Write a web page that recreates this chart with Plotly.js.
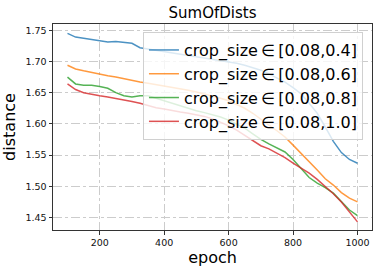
<!DOCTYPE html>
<html>
<head>
<meta charset="utf-8">
<script src="https://cdn.plot.ly/plotly-3.0.1.min.js"></script>
<style>html,body{margin:0;padding:0;background:#fff;}#chart{width:378px;height:272px;}</style>
</head>
<body>
<div id="chart"></div>
<script>
const epochs = [100,125,150,175,200,225,250,275,300,325,350,375,400,425,450,475,500,525,550,575,600,625,650,675,700,725,750,775,800,825,850,875,900,925,950,975,1000];

const crop04 = [1.745,1.739,1.737,1.735,1.732,1.731,1.732,1.731,1.729,1.722,1.720,1.718,1.715,1.713,1.711,1.709,1.707,1.705,1.703,1.701,1.700,1.697,1.694,1.690,1.686,1.680,1.674,1.667,1.658,1.648,1.633,1.617,1.595,1.572,1.554,1.543,1.537];
const crop06 = [1.694,1.688,1.685,1.682,1.679,1.677,1.675,1.672,1.669,1.667,1.665,1.663,1.661,1.659,1.656,1.654,1.651,1.648,1.645,1.641,1.637,1.631,1.625,1.617,1.607,1.598,1.589,1.579,1.566,1.553,1.539,1.526,1.512,1.502,1.490,1.481,1.475];
const crop08 = [1.675,1.664,1.662,1.662,1.660,1.657,1.650,1.645,1.643,1.645,1.645,1.641,1.636,1.632,1.628,1.625,1.621,1.618,1.615,1.611,1.606,1.600,1.593,1.584,1.575,1.568,1.561,1.555,1.543,1.528,1.514,1.505,1.498,1.489,1.476,1.462,1.453];
const crop10 = [1.664,1.655,1.650,1.647,1.645,1.643,1.641,1.639,1.636,1.633,1.629,1.626,1.624,1.621,1.619,1.617,1.615,1.612,1.608,1.603,1.597,1.590,1.582,1.573,1.565,1.560,1.553,1.546,1.537,1.529,1.521,1.511,1.500,1.488,1.475,1.459,1.443];

const seriesNames = ["crop_size\u2009\u2208\u2009[0.08,0.4]","crop_size\u2009\u2208\u2009[0.08,0.6]","crop_size\u2009\u2208\u2009[0.08,0.8]","crop_size\u2009\u2208\u2009[0.08,1.0]"];
const seriesValues = [crop04, crop06, crop08, crop10];
const colors = ["#1f77b4","#ff7f0e","#2ca02c","#d62728"];

const titleText = "SumOfDists";
const xLabel = "epoch";
const yLabel = "distance";
const xTicks = [200,400,600,800,1000];
const yTicks = [1.45,1.50,1.55,1.60,1.65,1.70,1.75];

const FONT = "DejaVu Sans, sans-serif";

const traces = seriesValues.map((vals, i) => ({
  x: epochs, y: vals, type: "scatter", mode: "lines",
  name: seriesNames[i],
  line: {color: colors[i], width: 1.5},
  opacity: 0.8
}));

const axisCommon = {
  showline: true, linecolor: "#333", linewidth: 1, mirror: true,
  ticks: "outside", ticklen: 3.5, tickwidth: 1, tickcolor: "#333",
  showgrid: true, gridcolor: "#cccccc", gridwidth: 1, griddash: "dashdot",
  zeroline: false,
  tickfont: {family: FONT, size: 9.5, color: "#111"}
};

const layout = {
  width: 378, height: 272,
  margin: {l: 53, r: 6, t: 24, b: 42, pad: 0},
  paper_bgcolor: "#fff", plot_bgcolor: "#fff",
  font: {family: FONT, color: "#000"},
  title: {text: titleText, font: {family: FONT, size: 15, color: "#000"},
          x: 0.5, xref: "paper", xanchor: "center", y: 0.952, yref: "container", yanchor: "middle"},
  xaxis: Object.assign({}, axisCommon, {
    range: [55, 1045], tickvals: xTicks, ticktext: xTicks.map(String),
    title: {text: xLabel, font: {family: FONT, size: 16, color: "#000"}, standoff: 4}
  }),
  yaxis: Object.assign({}, axisCommon, {
    range: [1.430, 1.760], tickvals: yTicks, ticktext: yTicks.map(v => v.toFixed(2)),
    title: {text: yLabel, font: {family: FONT, size: 16, color: "#000"}, standoff: 6}
  }),
  legend: {
    x: 0.282, y: 0.961, xanchor: "left", yanchor: "top",
    bgcolor: "rgba(255,255,255,0.8)", bordercolor: "#d0d0d0", borderwidth: 1,
    font: {family: FONT, size: 16, color: "#000"},
    itemwidth: 30, tracegroupgap: 0
  },
  showlegend: true
};

Plotly.newPlot("chart", traces, layout, {staticPlot: true, displayModeBar: false});
</script>
</body>
</html>
